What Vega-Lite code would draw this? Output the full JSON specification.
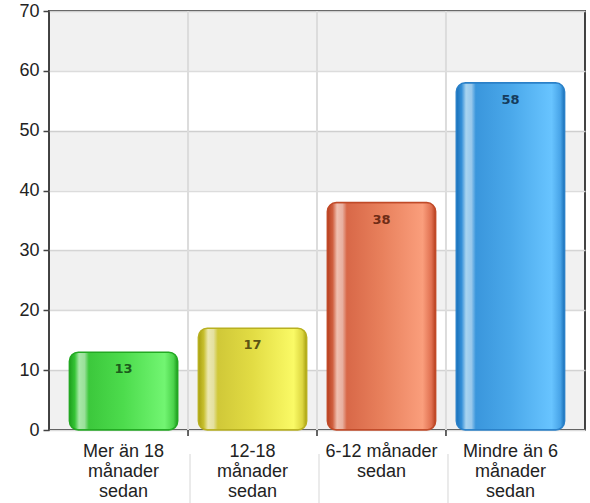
{
  "$schema": "https://vega.github.io/schema/vega-lite/v6.json",
  "width": 536,
  "height": 419,
  "autosize": "none",
  "padding": {"left": 49, "top": 11, "right": 5, "bottom": 73},
  "background": "white",
  "datasets": {
    "main": [
      {"cat": "Mer än 18 månader sedan", "value": 13},
      {"cat": "12-18 månader sedan", "value": 17},
      {"cat": "6-12 månader sedan", "value": 38},
      {"cat": "Mindre än 6 månader sedan", "value": 58}
    ],
    "bands": [
      {"lo": 0, "hi": 10},
      {"lo": 20, "hi": 30},
      {"lo": 40, "hi": 50},
      {"lo": 60, "hi": 70}
    ]
  },
  "data": {"name": "main"},
  "config": {
    "view": {"stroke": "#444", "strokeWidth": 2},
    "axisY": {
      "grid": true, "gridColor": "#dcdcdc", "gridWidth": 1.5,
      "domain": false, "tickColor": "#444", "tickSize": 6, "tickWidth": 1.5,
      "labelFont": "Liberation Sans", "labelFontSize": 18, "labelColor": "#222",
      "labelPadding": 4, "title": null
    },
    "axisX": {
      "grid": false, "domain": false, "ticks": false,
      "labelFont": "Liberation Sans", "labelFontSize": 18, "labelColor": "#222",
      "labelLineHeight": 20, "labelPadding": 12, "labelAngle": 0,
      "labelOverlap": false, "labelLimit": 200, "title": null
    }
  },
  "layer": [
    {
      "data": {"name": "bands"},
      "mark": {"type": "rect", "fill": "#000", "fillOpacity": 0.055},
      "encoding": {
        "y": {"field": "lo", "type": "quantitative", "scale": {"domain": [0, 70], "nice": false},
              "axis": {"values": [0, 10, 20, 30, 40, 50, 60, 70]}},
        "y2": {"field": "hi"}
      }
    },
    {
      "transform": [{"filter": "datum.cat != 'Mer än 18 månader sedan'"}],
      "mark": {"type": "rule", "color": "#dcdcdc", "strokeWidth": 2},
      "encoding": {
        "x": {"field": "cat", "type": "nominal", "bandPosition": 0,
              "scale": {"domain": ["Mer än 18 månader sedan", "12-18 månader sedan", "6-12 månader sedan", "Mindre än 6 månader sedan"], "paddingInner": 0, "paddingOuter": 0.078}},
        "y": {"datum": 70, "type": "quantitative"},
        "y2": {"datum": 0}
      }
    },
    {
      "transform": [{"filter": "datum.cat != 'Mer än 18 månader sedan'"}],
      "mark": {"type": "rule", "color": "#333", "strokeWidth": 1.5},
      "encoding": {
        "x": {"field": "cat", "type": "nominal", "bandPosition": 0},
        "y": {"datum": 0, "type": "quantitative"},
        "y2": {"datum": -1}
      }
    },
    {
      "transform": [{"filter": "datum.cat != 'Mer än 18 månader sedan'"}],
      "mark": {"type": "rule", "color": "#e4e4e4", "strokeWidth": 1.5, "xOffset": 2},
      "encoding": {
        "x": {"field": "cat", "type": "nominal", "bandPosition": 0},
        "y": {"datum": -4, "type": "quantitative"},
        "y2": {"datum": -12.2}
      }
    },
    {
      "transform": [{"filter": "datum.cat == 'Mer än 18 månader sedan'"}],
      "mark": {"type": "bar", "width": {"band": 0.84}, "cornerRadius": 9, "stroke": "#22a822", "strokeWidth": 1.5,
        "fill": {"gradient": "linear", "x1": 0, "x2": 1, "y1": 0, "y2": 0, "stops": [
          {"offset": 0, "color": "#1ea01e"}, {"offset": 0.05, "color": "#35c435"},
          {"offset": 0.09, "color": "#a8e8a8"}, {"offset": 0.14, "color": "#9ae09a"},
          {"offset": 0.18, "color": "#3cc83c"}, {"offset": 0.5, "color": "#4ddc4d"},
          {"offset": 0.88, "color": "#72f572"}, {"offset": 0.96, "color": "#4cd44c"},
          {"offset": 1, "color": "#1e9a1e"}]}},
      "encoding": {
        "x": {"field": "cat", "type": "nominal"},
        "y": {"field": "value", "type": "quantitative"}
      }
    },
    {
      "transform": [{"filter": "datum.cat == '12-18 månader sedan'"}],
      "mark": {"type": "bar", "width": {"band": 0.84}, "cornerRadius": 9, "stroke": "#b8b020", "strokeWidth": 1.5,
        "fill": {"gradient": "linear", "x1": 0, "x2": 1, "y1": 0, "y2": 0, "stops": [
          {"offset": 0, "color": "#a8a010"}, {"offset": 0.05, "color": "#c8c030"},
          {"offset": 0.09, "color": "#ece8b0"}, {"offset": 0.14, "color": "#e4e0a0"},
          {"offset": 0.18, "color": "#d0c838"}, {"offset": 0.5, "color": "#e2dc44"},
          {"offset": 0.88, "color": "#fafa66"}, {"offset": 0.96, "color": "#dcd640"},
          {"offset": 1, "color": "#a8a010"}]}},
      "encoding": {
        "x": {"field": "cat", "type": "nominal"},
        "y": {"field": "value", "type": "quantitative"}
      }
    },
    {
      "transform": [{"filter": "datum.cat == '6-12 månader sedan'"}],
      "mark": {"type": "bar", "width": {"band": 0.84}, "cornerRadius": 9, "stroke": "#c04a28", "strokeWidth": 1.5,
        "fill": {"gradient": "linear", "x1": 0, "x2": 1, "y1": 0, "y2": 0, "stops": [
          {"offset": 0, "color": "#b84020"}, {"offset": 0.05, "color": "#d06040"},
          {"offset": 0.09, "color": "#f0c0b0"}, {"offset": 0.14, "color": "#e8b0a0"},
          {"offset": 0.18, "color": "#d86848"}, {"offset": 0.5, "color": "#e8805c"},
          {"offset": 0.88, "color": "#fa9e7c"}, {"offset": 0.96, "color": "#e07050"},
          {"offset": 1, "color": "#b84020"}]}},
      "encoding": {
        "x": {"field": "cat", "type": "nominal"},
        "y": {"field": "value", "type": "quantitative"}
      }
    },
    {
      "transform": [{"filter": "datum.cat == 'Mindre än 6 månader sedan'"}],
      "mark": {"type": "bar", "width": {"band": 0.84}, "cornerRadius": 9, "stroke": "#2a80c8", "strokeWidth": 1.5,
        "fill": {"gradient": "linear", "x1": 0, "x2": 1, "y1": 0, "y2": 0, "stops": [
          {"offset": 0, "color": "#1a70b8"}, {"offset": 0.05, "color": "#3590d8"},
          {"offset": 0.09, "color": "#a8d4f0"}, {"offset": 0.14, "color": "#98c8ec"},
          {"offset": 0.18, "color": "#3a96dc"}, {"offset": 0.5, "color": "#4aa8ea"},
          {"offset": 0.88, "color": "#68c4ff"}, {"offset": 0.96, "color": "#48a4e8"},
          {"offset": 1, "color": "#1a70b8"}]}},
      "encoding": {
        "x": {"field": "cat", "type": "nominal",
              "axis": {"labelExpr": "datum.label == 'Mer än 18 månader sedan' ? ['Mer än 18','månader','sedan'] : datum.label == '12-18 månader sedan' ? ['12-18','månader','sedan'] : datum.label == '6-12 månader sedan' ? ['6-12 månader','sedan'] : ['Mindre än 6','månader','sedan']"}},
        "y": {"field": "value", "type": "quantitative"}
      }
    },
    {
      "mark": {"type": "text", "font": "DejaVu Sans", "fontWeight": "bold", "fontSize": 13, "baseline": "middle", "dy": 17},
      "encoding": {
        "x": {"field": "cat", "type": "nominal"},
        "y": {"field": "value", "type": "quantitative"},
        "text": {"field": "value", "type": "quantitative"},
        "color": {"field": "cat", "type": "nominal", "legend": null,
          "scale": {"domain": ["Mer än 18 månader sedan", "12-18 månader sedan", "6-12 månader sedan", "Mindre än 6 månader sedan"],
                    "range": ["#1c5c1c", "#5c5414", "#6e2c16", "#163c5c"]}}
      }
    }
  ]
}
